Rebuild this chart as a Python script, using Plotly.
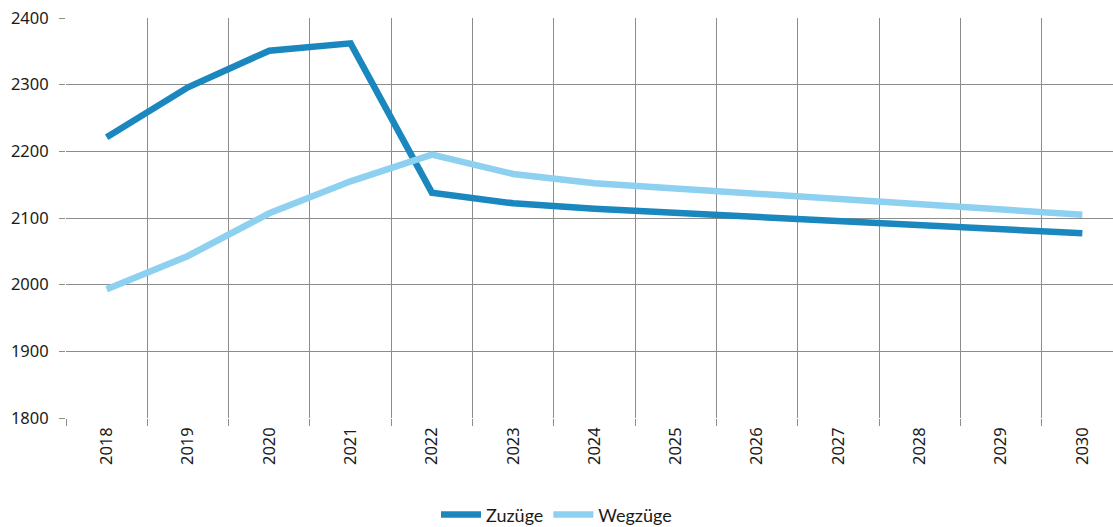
import plotly.graph_objects as go

years = ["2018", "2019", "2020", "2021", "2022", "2023", "2024", "2025", "2026", "2027", "2028", "2029", "2030"]
zuzuege = [2221, 2296, 2351, 2362, 2138, 2122, 2114, 2108, 2102, 2094, 2088, 2083, 2077]
wegzuege = [1993, 2043, 2107, 2155, 2195, 2166, 2152, 2144, 2137, 2127, 2119, 2111, 2105]
y_ticks = [1800, 1900, 2000, 2100, 2200, 2300, 2400]

fig = go.Figure()
fig.add_trace(go.Scatter(x=years, y=zuzuege, name="Zuzüge", mode="lines",
                         line=dict(color="#1A88BE", width=6.5)))
fig.add_trace(go.Scatter(x=years, y=wegzuege, name="Wegzüge", mode="lines",
                         line=dict(color="#8DD0F0", width=6.5)))

grid = "#8C8C8C"
fig.update_layout(
    width=1113, height=527,
    margin=dict(l=66, r=0, t=18, b=109),
    plot_bgcolor="white", paper_bgcolor="white",
    font=dict(family="Noto Sans", size=16, color="#1a1a1a"),
    showlegend=True,
    legend=dict(orientation="h", xref="container", yref="container",
                x=0.5, xanchor="center", y=0.023, yanchor="middle",
                font=dict(family="Lato", size=18, color="#1a1a1a"),
                itemwidth=40, traceorder="normal"),
    xaxis=dict(type="category", range=[-0.5, 12.377], tickson="boundaries",
               showgrid=True, gridcolor=grid, gridwidth=1,
               ticks="outside", ticklen=7, tickcolor=grid, tickwidth=1,
               tickangle=-90, ticklabelstandoff=5, zeroline=False,
               showline=False, tickfont=dict(size=16.5)),
    yaxis=dict(range=[1800, 2400], tickvals=y_ticks,
               showgrid=True, gridcolor=grid, gridwidth=1,
               ticks="outside", ticklen=6, tickcolor=grid, tickwidth=1,
               ticklabelstandoff=7, zeroline=False, showline=False,
               tickfont=dict(size=16.5)),
)

fig.write_html("out.html", config={"displayModeBar": False},
               post_script="document.body.style.margin='0';document.body.style.overflow='hidden';")
